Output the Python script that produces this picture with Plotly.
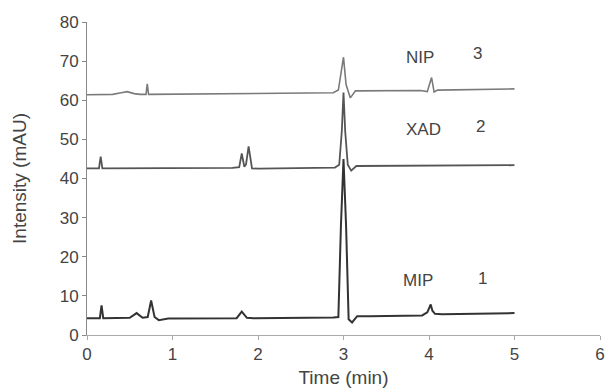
import plotly.graph_objects as go

# MIP (trace 1)
mip_t = [0, 0.15, 0.17, 0.19, 0.5, 0.58, 0.65, 0.71, 0.75, 0.79, 0.84, 0.95, 1.75, 1.81, 1.87, 1.95,
         2.88, 2.94, 2.97, 3.0, 3.03, 3.06, 3.1, 3.16, 3.3, 3.92, 3.98, 4.02, 4.04, 4.07, 4.15, 5.0]
mip_v = [4.3, 4.3, 7.6, 4.3, 4.4, 5.6, 4.4, 4.6, 8.8, 4.6, 3.8, 4.2, 4.3, 6.0, 4.4, 4.3,
         4.5, 4.6, 28, 45, 28, 4.0, 3.2, 4.8, 4.8, 5.0, 5.8, 7.8, 6.2, 5.4, 5.3, 5.6]

# XAD (trace 2)
xad_t = [0, 0.14, 0.16, 0.18, 1.7, 1.78, 1.81, 1.84, 1.86, 1.89, 1.93, 2.0,
         2.9, 2.95, 2.98, 3.0, 3.02, 3.05, 3.09, 3.15, 5.0]
xad_v = [42.6, 42.6, 45.6, 42.6, 42.7, 42.9, 46.4, 43.0, 43.6, 48.2, 42.6, 42.5,
         42.8, 43.5, 52, 62, 52, 43.5, 42.0, 43.2, 43.4]

# NIP (trace 3)
nip_t = [0, 0.3, 0.4, 0.47, 0.55, 0.62, 0.69, 0.705, 0.72, 2.88, 2.94, 2.98, 3.0,
         3.03, 3.08, 3.14, 3.9, 3.98, 4.03, 4.06, 4.1, 5.0]
nip_v = [61.4, 61.5, 61.9, 62.2, 61.7, 61.5, 61.5, 64.2, 61.5, 61.9, 62.6, 69, 71,
         64, 60.6, 62.4, 62.5, 62.2, 65.8, 62.1, 62.6, 62.9]

labels = ["MIP", "XAD", "NIP"]
numbers = ["1", "2", "3"]
label_x = [3.87, 3.93, 3.89]
label_y = [14.0, 52.5, 71.0]
num_x = [4.63, 4.6, 4.57]
num_y = [14.4, 53.3, 72.0]

y_tickvals = [0, 10, 20, 30, 40, 50, 60, 70, 80]
x_tickvals = [0, 1, 2, 3, 4, 5, 6]

fig = go.Figure()
fig.add_trace(go.Scatter(x=nip_t, y=nip_v, mode="lines", line=dict(color="#7a7a7a", width=1.6)))
fig.add_trace(go.Scatter(x=xad_t, y=xad_v, mode="lines", line=dict(color="#555555", width=1.8)))
fig.add_trace(go.Scatter(x=mip_t, y=mip_v, mode="lines", line=dict(color="#333333", width=2.0)))

font = dict(family="Liberation Sans, Arial, sans-serif", size=17, color="#444444")
title_font = dict(family="Liberation Sans, Arial, sans-serif", size=19, color="#444444")
for i in range(3):
    fig.add_annotation(x=label_x[i], y=label_y[i], text=labels[i], showarrow=False, font=font)
    fig.add_annotation(x=num_x[i], y=num_y[i], text=numbers[i], showarrow=False, font=font)

fig.update_layout(
    width=612, height=388,
    margin=dict(l=87, r=12, t=22, b=53),
    plot_bgcolor="white", paper_bgcolor="white",
    showlegend=False,
    font=font,
    xaxis=dict(range=[0, 6], tickvals=x_tickvals, showgrid=False, zeroline=False, automargin=False,
               showline=True, linecolor="#aaaaaa", linewidth=1, ticks="outside", ticklen=4,
               tickcolor="#aaaaaa", title=dict(text="Time (min)", standoff=8, font=title_font), tickfont=font),
    yaxis=dict(range=[0, 80], tickvals=y_tickvals, showgrid=False, zeroline=False, automargin=False,
               showline=True, linecolor="#888888", linewidth=1, ticks="outside", ticklen=4,
               tickcolor="#888888", title=dict(text="Intensity (mAU)", standoff=28, font=title_font), tickfont=font),
)

fig.write_html("out.html")
